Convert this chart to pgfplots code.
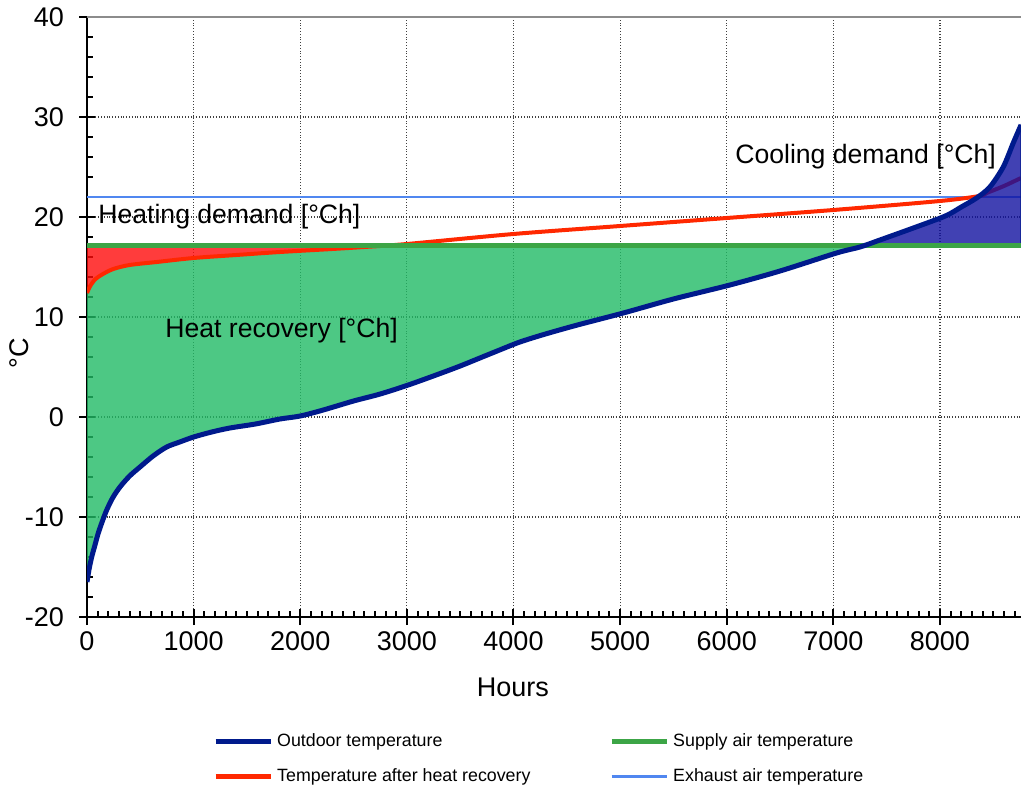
\documentclass[border=0pt]{standalone}
\usepackage{fontspec}
\setmainfont{Liberation Sans}
\usepackage{pgfplots}
\pgfplotsset{compat=1.18}
\definecolor{outdoor}{RGB}{0,26,140}
\definecolor{supply}{RGB}{60,165,70}
\definecolor{redline}{RGB}{255,40,0}
\definecolor{exhaust}{RGB}{80,135,240}
\definecolor{greenfill}{RGB}{32,186,101}
\definecolor{redfill}{RGB}{255,11,11}
\definecolor{bluefill}{RGB}{17,17,160}
\begin{document}
\begin{tikzpicture}
\path[use as bounding box] (0,0) rectangle (510.5pt,393.5pt);
\begin{axis}[
  at={(43.5pt,85pt)}, anchor=south west,
  scale only axis, width=467pt, height=300pt,
  xmin=0, xmax=8760, ymin=-20, ymax=40,
  axis x line*=bottom, axis y line*=left,
  axis line style={line width=1pt, black},
  xtick={0,1000,2000,3000,4000,5000,6000,7000,8000},
  xticklabels={0,1000,2000,3000,4000,5000,6000,7000,8000},
  ytick={-20,-10,0,10,20,30,40},
  yticklabels={-20,-10,0,10,20,30,40},
  tick align=center, major tick length=8pt,
  tick style={line width=1pt, black},
  minor tick num=0,
  extra x ticks={100,200,300,400,500,600,700,800,900,1100,1200,1300,1400,1500,1600,1700,1800,1900,2100,2200,2300,2400,2500,2600,2700,2800,2900,3100,3200,3300,3400,3500,3600,3700,3800,3900,4100,4200,4300,4400,4500,4600,4700,4800,4900,5100,5200,5300,5400,5500,5600,5700,5800,5900,6100,6200,6300,6400,6500,6600,6700,6800,6900,7100,7200,7300,7400,7500,7600,7700,7800,7900,8100,8200,8300,8400,8500,8600,8700},
  extra x tick style={grid=none, tick align=inside, major tick length=3pt, xticklabel={}},
  extra y ticks={-18,-16,-14,-12,-8,-6,-4,-2,2,4,6,8,12,14,16,18,22,24,26,28,32,34,36,38},
  extra y tick style={grid=none, tick align=inside, major tick length=3pt, yticklabel={}},
  grid=major,
  major grid style={densely dotted, black!75, line width=0.6pt},
  tick label style={font=\fontsize{13.5}{16}\selectfont},
  yticklabel style={xshift=-4pt},
  xlabel={Hours}, ylabel={°C},
  label style={font=\fontsize{13.5}{16}\selectfont},
  xlabel style={at={(axis description cs:0.456,-0.118)}, anchor=center},
  ylabel style={at={(axis description cs:-0.0728,0.44)}, anchor=center},
  legend columns=2,
  legend style={draw=none, fill=none, font=\fontsize{8.9}{10.5}\selectfont,
    at={(axis description cs:0.1283,-0.18)}, anchor=north west,
    row sep=5.5pt, /tikz/every even column/.append style={column sep=0pt}},
  legend cell align=left,
  legend image code/.code={\draw[#1] (0pt,0pt) -- (27.5pt,0pt);},
]
% green fill: heat recovery
\addplot[draw=none, fill=greenfill, fill opacity=0.8, forget plot] coordinates {
(0,12.4) (30,13.1) (80,13.8) (150,14.3) (247,14.8) (400,15.2) (654,15.5) (1000,15.9) (1400,16.2) (1810,16.5) (2300,16.8) (2600,17.0)
(7250,17.0) (7030,16.4) (6500,14.6) (6030,13.2) (5500,11.8) (5030,10.4) (4600,9.2) (4300,8.3) (4060,7.5) (3870,6.7) (3685,5.9) (3500,5.1) (3300,4.3) (3013,3.2) (2750,2.3) (2500,1.6) (2216,0.7) (2000,0.1) (1810,-0.2) (1580,-0.7) (1340,-1.1) (1170,-1.5) (1000,-2.0) (870,-2.5) (747,-3.0) (620,-3.9) (497,-5.0) (400,-5.9) (309,-7.0) (240,-8.1) (185,-9.3) (145,-10.4) (106,-11.6) (75,-12.8) (44,-14.0) (20,-15.2) (0,-16.5)
} -- cycle;
% red fill: heating demand
\addplot[draw=none, fill=redfill, fill opacity=0.8, forget plot] coordinates {
(0,17.0) (2600,17.0) (2300,16.8) (1810,16.5) (1400,16.2) (1000,15.9) (654,15.5) (400,15.2) (247,14.8) (150,14.3) (80,13.8) (30,13.1) (0,12.4)
} -- cycle;
% exhaust air
\addplot[exhaust, line width=1.3pt, forget plot] coordinates {(0,22) (8760,22)};
% temperature after heat recovery
\addplot[redline, line width=2pt, smooth, forget plot] coordinates {
(0,12.4) (30,13.1) (80,13.8) (150,14.3) (247,14.8) (400,15.2) (654,15.5) (1000,15.9) (1400,16.2) (1810,16.5) (2300,16.8) (2600,17.0) (3000,17.3) (4000,18.3) (5000,19.1) (6000,19.9) (7000,20.7) (8000,21.6) (8370,22.1) (8437,22.4) (8600,23.1) (8760,23.9)
};
% blue fill: cooling demand
\addplot[draw=outdoor, line width=0.6pt, fill=bluefill, fill opacity=0.8, forget plot] coordinates {
(7250,17.0) (7437,17.7) (7750,18.9) (8050,20.1) (8200,21.0) (8343,21.9) (8468,23.0) (8593,25.0) (8687,27.4) (8760,29.2) (8760,17.0)
} -- cycle;
% supply air
\addplot[supply, line width=2.5pt, forget plot] coordinates {(0,17.1) (8760,17.1)};
% outdoor
\addplot[outdoor, line width=2.5pt, smooth, forget plot] coordinates {
(0,-16.5) (20,-15.2) (44,-14.0) (75,-12.8) (106,-11.6) (145,-10.4) (185,-9.3) (240,-8.1) (309,-7.0) (400,-5.9) (497,-5.0) (620,-3.9) (747,-3.0) (870,-2.5) (1000,-2.0) (1170,-1.5) (1340,-1.1) (1580,-0.7) (1810,-0.2) (2000,0.1) (2216,0.7) (2500,1.6) (2750,2.3) (3013,3.2) (3300,4.3) (3500,5.1) (3685,5.9) (3870,6.7) (4060,7.5) (4300,8.3) (4600,9.2) (5030,10.4) (5500,11.8) (6030,13.2) (6500,14.6) (7030,16.4) (7250,17.0) (7437,17.7) (7750,18.9) (8050,20.1) (8200,21.0) (8343,21.9) (8468,23.0) (8593,25.0) (8687,27.4) (8760,29.2)
};
% legend entries
\addlegendimage{outdoor, line width=2.5pt}
\addlegendentry{\makebox[164pt][l]{Outdoor temperature}}
\addlegendimage{supply, line width=2.5pt}
\addlegendentry{Supply air temperature}
\addlegendimage{redline, line width=2.5pt}
\addlegendentry{\makebox[164pt][l]{Temperature after heat recovery}}
\addlegendimage{exhaust, line width=1.3pt}
\addlegendentry{Exhaust air temperature}
% top frame line
\draw[black!45, line width=1pt] (rel axis cs:0,1) -- (rel axis cs:1,1);
% annotations
\node[anchor=west, inner sep=0pt, font=\fontsize{13.3}{15}\selectfont] at (axis cs:6077,26) {Cooling demand [°Ch]};
\node[anchor=west, inner sep=0pt, font=\fontsize{13.3}{15}\selectfont] at (axis cs:103,20) {Heating demand [°Ch]};
\node[anchor=west, inner sep=0pt, font=\fontsize{13.3}{15}\selectfont] at (axis cs:731,8.6) {Heat recovery [°Ch]};
\end{axis}
\end{tikzpicture}
\end{document}
